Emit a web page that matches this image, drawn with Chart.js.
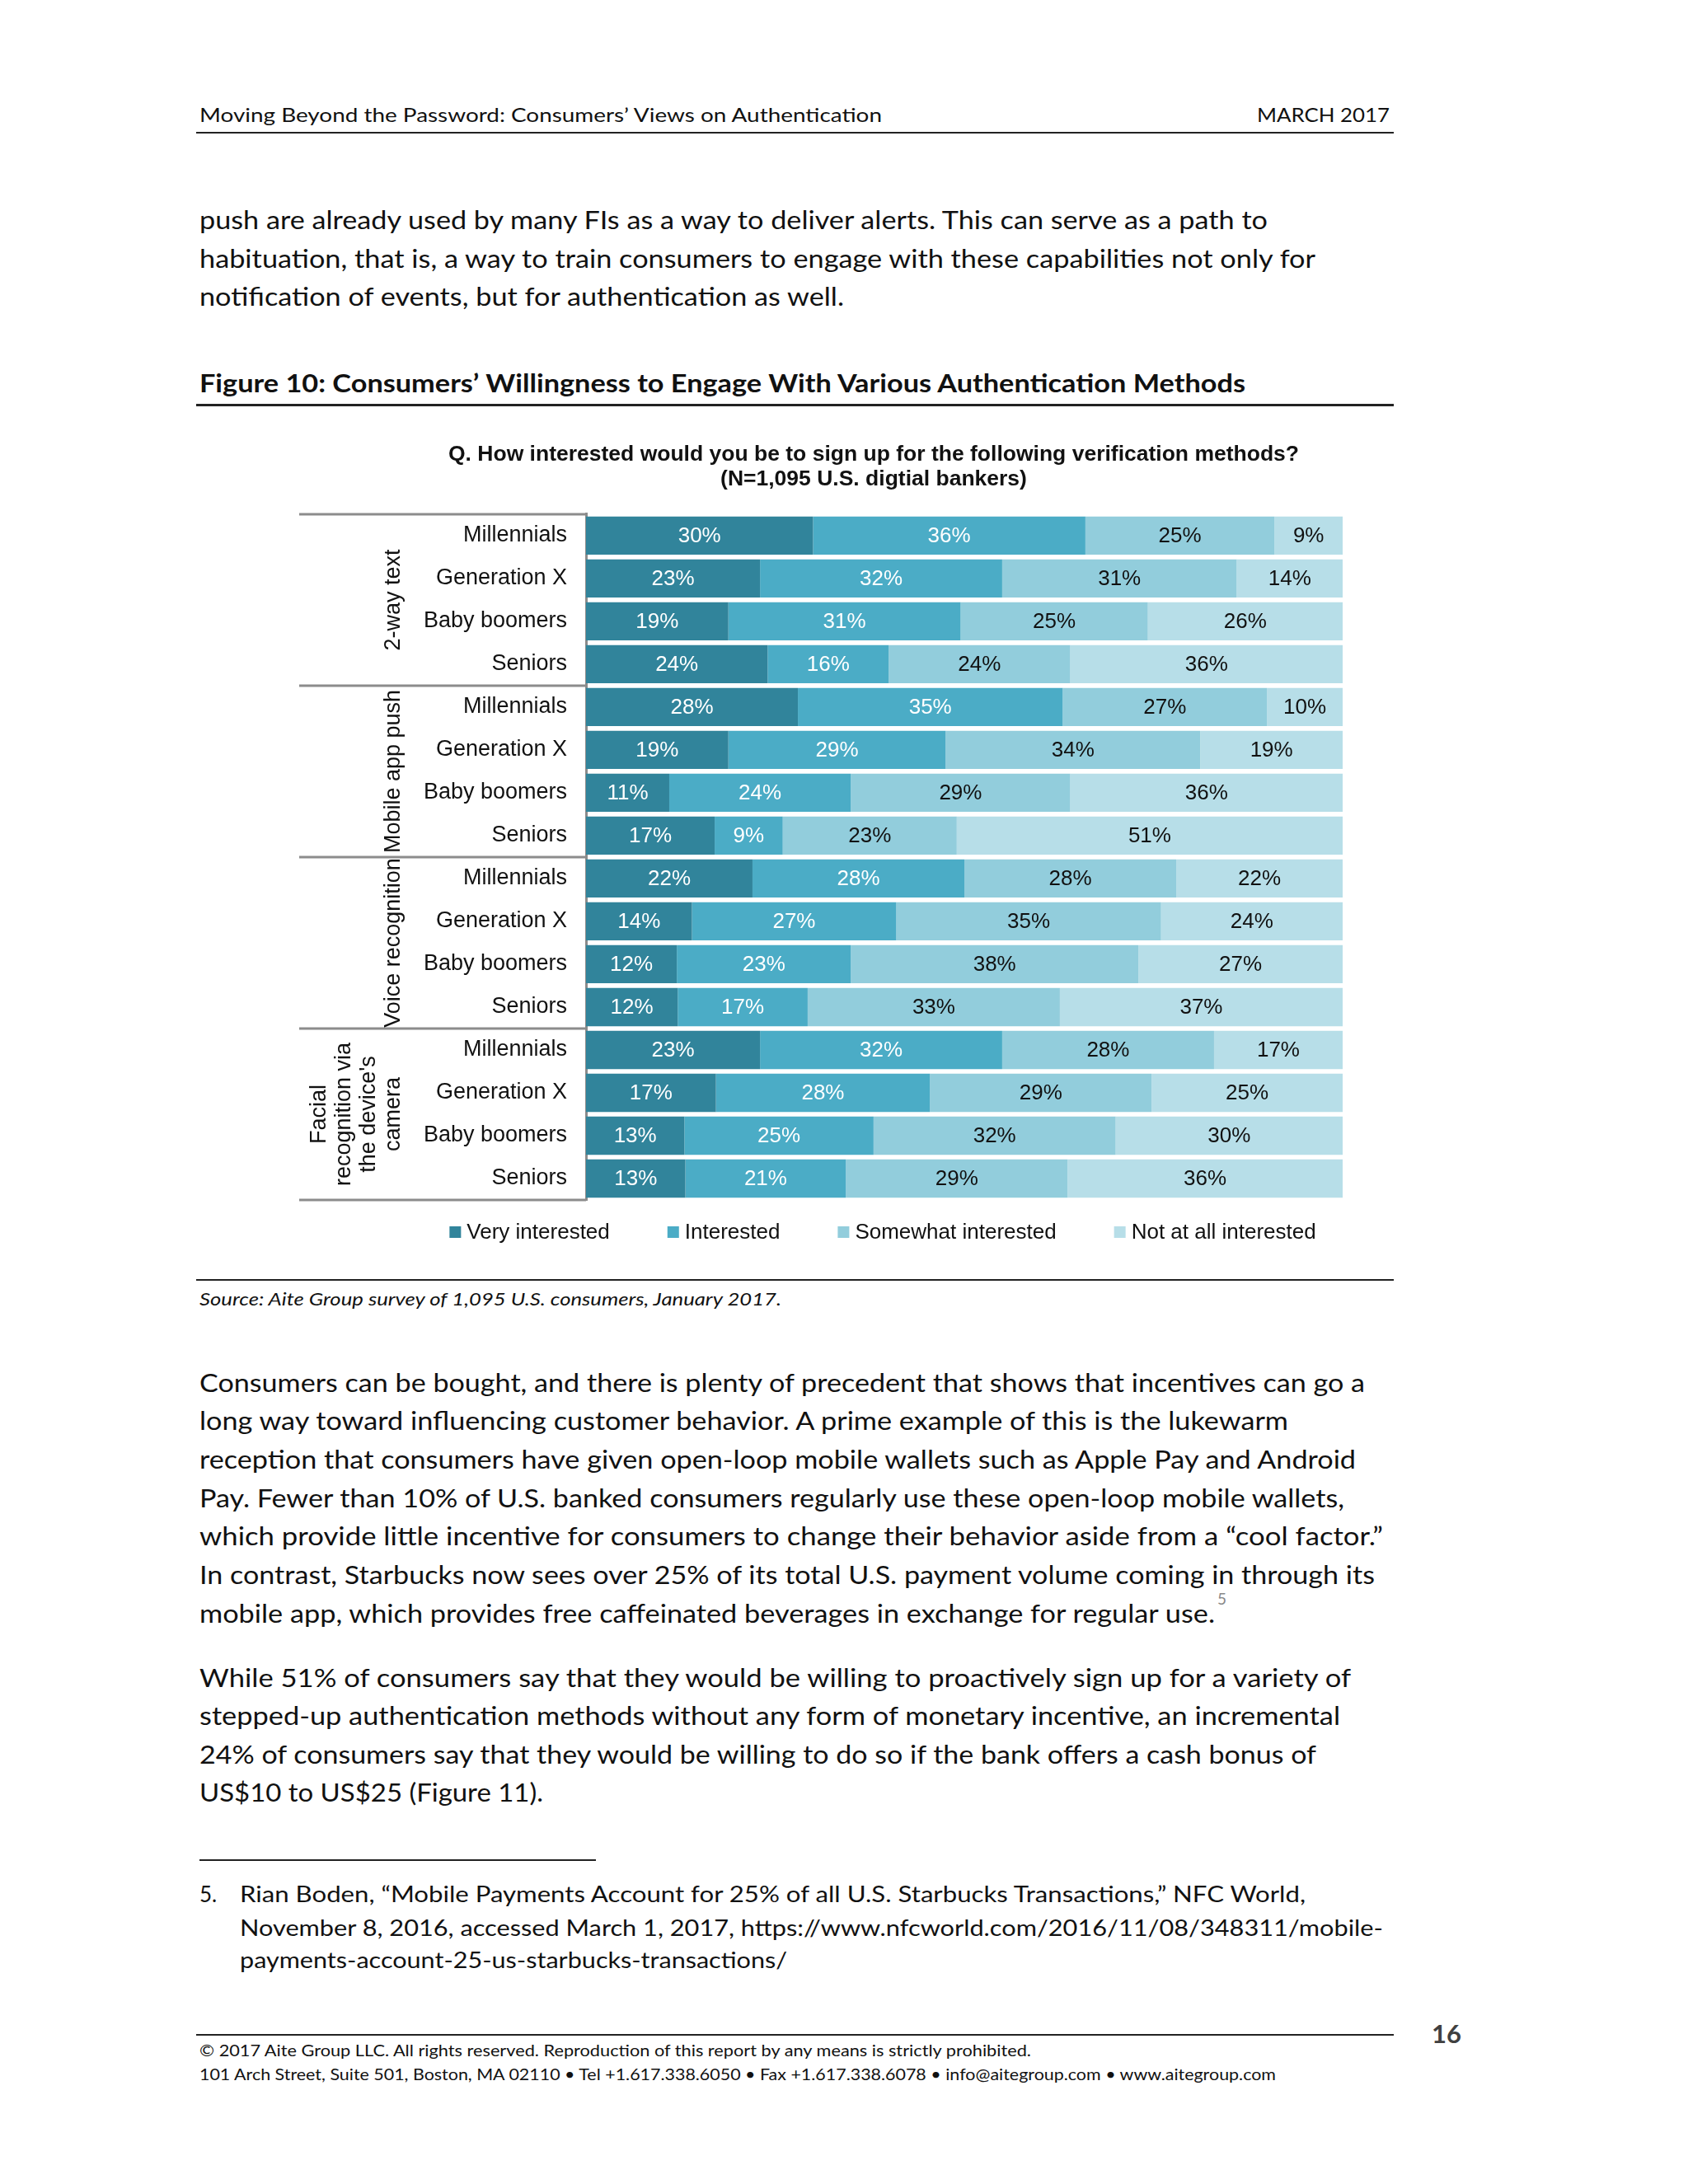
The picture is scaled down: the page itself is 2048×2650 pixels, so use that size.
<!DOCTYPE html>
<html>
<head>
<meta charset="utf-8">
<script src="https://cdn.jsdelivr.net/npm/chart.js@4.4.0/dist/chart.umd.min.js"></script>
<style>
  html, body { margin: 0; padding: 0; background: #fff; }
  #page { position: relative; width: 2048px; height: 2650px; overflow: hidden; background: #fff; }
  .t { position: absolute; white-space: nowrap; font-family: Lato, "Open Sans", sans-serif; color: #111; line-height: 1; transform-origin: left center; }
  .body { font-size: 30px; }
  .rule { position: absolute; background: #222; }
</style>
</head>
<body>
<div id="page">
  <div class="t" style="left:242px;top:127px;font-size:24px" data-w="828">Moving Beyond the Password: Consumers’ Views on Authentication</div>
  <div class="t" style="left:1525px;top:127px;font-size:24px" data-w="161">MARCH 2017</div>
  <div class="rule" style="left:238px;top:160px;width:1453px;height:2px"></div>

  <div class="t body" style="left:242px;top:251px" data-w="1296">push are already used by many FIs as a way to deliver alerts. This can serve as a path to</div>
  <div class="t body" style="left:242px;top:298px" data-w="1354">habituation, that is, a way to train consumers to engage with these capabilities not only for</div>
  <div class="t body" style="left:242px;top:344px" data-w="782">notification of events, but for authentication as well.</div>

  <div class="t body" style="left:242px;top:449px;font-weight:bold" data-w="1269">Figure 10: Consumers’ Willingness to Engage With Various Authentication Methods</div>
  <div class="rule" style="left:238px;top:490px;width:1453px;height:3px"></div>

  <div id="chartBox" style="position:absolute;left:351px;top:520px;width:1418px;height:1010px"><canvas id="chart"></canvas></div>

  <div class="rule" style="left:238px;top:1552px;width:1453px;height:2px"></div>
  <div class="t" style="left:242px;top:1565px;font-size:22px;font-style:italic" data-w="706">Source: Aite Group survey of 1,095 U.S. consumers, January 2017.</div>

  <div class="t body" style="left:242px;top:1662px" data-w="1414">Consumers can be bought, and there is plenty of precedent that shows that incentives can go a</div>
  <div class="t body" style="left:242px;top:1708px" data-w="1321">long way toward influencing customer behavior. A prime example of this is the lukewarm</div>
  <div class="t body" style="left:242px;top:1755px" data-w="1403">reception that consumers have given open-loop mobile wallets such as Apple Pay and Android</div>
  <div class="t body" style="left:242px;top:1802px" data-w="1389">Pay. Fewer than 10% of U.S. banked consumers regularly use these open-loop mobile wallets,</div>
  <div class="t body" style="left:242px;top:1848px" data-w="1436">which provide little incentive for consumers to change their behavior aside from a “cool factor.”</div>
  <div class="t body" style="left:242px;top:1895px" data-w="1426">In contrast, Starbucks now sees over 25% of its total U.S. payment volume coming in through its</div>
  <div class="t body" style="left:242px;top:1942px" data-w="1232">mobile app, which provides free caffeinated beverages in exchange for regular use.</div>
  <div class="t" style="left:1477px;top:1930px;font-size:19px;color:#888">5</div>

  <div class="t body" style="left:242px;top:2020px" data-w="1397">While 51% of consumers say that they would be willing to proactively sign up for a variety of</div>
  <div class="t body" style="left:242px;top:2066px" data-w="1384">stepped-up authentication methods without any form of monetary incentive, an incremental</div>
  <div class="t body" style="left:242px;top:2113px" data-w="1355">24% of consumers say that they would be willing to do so if the bank offers a cash bonus of</div>
  <div class="t body" style="left:242px;top:2159px" data-w="417">US$10 to US$25 (Figure 11).</div>

  <div class="rule" style="left:242px;top:2256px;width:481px;height:2px"></div>
  <div class="t" style="left:242px;top:2285px;font-size:26px">5.</div>
  <div class="t" style="left:291px;top:2285px;font-size:26px" data-w="1293">Rian Boden, “Mobile Payments Account for 25% of all U.S. Starbucks Transactions,” NFC World,</div>
  <div class="t" style="left:291px;top:2326px;font-size:26px" data-w="1387">November 8, 2016, accessed March 1, 2017, https://www.nfcworld.com/2016/11/08/348311/mobile-</div>
  <div class="t" style="left:291px;top:2365px;font-size:26px" data-w="664">payments-account-25-us-starbucks-transactions/</div>

  <div class="rule" style="left:238px;top:2468px;width:1453px;height:2px"></div>
  <div class="t" style="left:1737px;top:2452px;font-size:31px;font-weight:bold;color:#404040">16</div>
  <div class="t" style="left:242px;top:2478px;font-size:19px" data-w="1009">© 2017 Aite Group LLC. All rights reserved. Reproduction of this report by any means is strictly prohibited.</div>
  <div class="t" style="left:242px;top:2507px;font-size:19px" data-w="1306">101 Arch Street, Suite 501, Boston, MA 02110 • Tel +1.617.338.6050 • Fax +1.617.338.6078 • info@aitegroup.com • www.aitegroup.com</div>
</div>

<script>
// survey groups and rows
const groups = ['2-way text', 'Mobile app push', 'Voice recognition', ['Facial', 'recognition via', 'the device\'s', 'camera']];
const generations = ['Millennials', 'Generation X', 'Baby boomers', 'Seniors'];
const seriesNames = ['Very interested', 'Interested', 'Somewhat interested', 'Not at all interested'];

// values in %, one entry per row (4 generations x 4 methods, top to bottom)
const veryInterested     = [30, 23, 19, 24, 28, 19, 11, 17, 22, 14, 12, 12, 23, 17, 13, 13];
const interested         = [36, 32, 31, 16, 35, 29, 24,  9, 28, 27, 23, 17, 32, 28, 25, 21];
const somewhatInterested = [25, 31, 25, 24, 27, 34, 29, 23, 28, 35, 38, 33, 28, 29, 32, 29];
const notInterested      = [ 9, 14, 26, 36, 10, 19, 36, 51, 22, 24, 27, 37, 17, 25, 30, 36];

const seriesColors = ['#31849B', '#4BACC6', '#92CDDC', '#B7DEE8'];
const labelColors = ['#ffffff', '#ffffff', '#111111', '#111111'];
const FONT = '"Liberation Sans", Arial, sans-serif';

const allSeries = [veryInterested, interested, somewhatInterested, notInterested];
const rowLabels = [];
groups.forEach(() => generations.forEach(g => rowLabels.push(g)));

// 100% stacked: each row scaled to its own total
const rowTotals = rowLabels.map((_, i) => allSeries.reduce((s, arr) => s + arr[i], 0));

const datasets = allSeries.map((arr, k) => ({
    label: seriesNames[k],
    data: arr.map((v, i) => v / rowTotals[i] * 100),
    values: arr,
    backgroundColor: seriesColors[k],
    borderWidth: 0,
    barPercentage: 0.89,
    categoryPercentage: 1
}));

const segmentLabels = {
    id: 'segmentLabels',
    afterDatasetsDraw(chart) {
        const ctx = chart.ctx;
        ctx.save();
        ctx.font = '26px ' + FONT;
        ctx.textAlign = 'center';
        ctx.textBaseline = 'middle';
        chart.data.datasets.forEach((ds, i) => {
            chart.getDatasetMeta(i).data.forEach((bar, j) => {
                const p = bar.getProps(['x', 'y', 'base'], true);
                ctx.fillStyle = labelColors[i];
                ctx.fillText(ds.values[j] + '%', (p.x + p.base) / 2, p.y + 1);
            });
        });
        ctx.restore();
    }
};

const groupAxis = {
    id: 'groupAxis',
    afterDraw(chart) {
        const ctx = chart.ctx, y = chart.scales.y, left = chart.chartArea.left;
        ctx.save();
        ctx.strokeStyle = '#8c8c8c';
        ctx.lineWidth = 3;
        for (let g = 0; g <= groups.length; g++) {
            const py = y.getPixelForValue(g * generations.length - 0.5);
            ctx.beginPath();
            ctx.moveTo(12, py);
            ctx.lineTo(left, py);
            ctx.stroke();
        }
        ctx.fillStyle = '#111';
        ctx.font = '27px ' + FONT;
        ctx.textAlign = 'center';
        ctx.textBaseline = 'middle';
        groups.forEach((name, g) => {
            const top = y.getPixelForValue(g * generations.length - 0.5);
            const bottom = y.getPixelForValue((g + 1) * generations.length - 0.5);
            const lines = Array.isArray(name) ? name : [name];
            ctx.save();
            ctx.translate(127 - (lines.length - 1) * 30, (top + bottom) / 2);
            ctx.rotate(-Math.PI / 2);
            lines.forEach((l, i) => ctx.fillText(l, 0, i * 30));
            ctx.restore();
        });
        ctx.restore();
    }
};

const legendRow = {
    id: 'legendRow',
    afterDraw(chart) {
        const ctx = chart.ctx;
        ctx.save();
        ctx.font = '26px ' + FONT;
        ctx.textBaseline = 'middle';
        const items = chart.data.datasets.map(ds => ({ text: ds.label, color: ds.backgroundColor, w: ctx.measureText(ds.label).width }));
        const total = items.reduce((s, it) => s + 21 + it.w, 0) + 70 * (items.length - 1);
        let x = 720 - total / 2;
        const y = 975;
        items.forEach(it => {
            ctx.fillStyle = it.color;
            ctx.fillRect(x, y - 7, 14, 14);
            ctx.fillStyle = '#111';
            ctx.fillText(it.text, x + 21, y + 1);
            x += 21 + it.w + 70;
        });
        ctx.restore();
    }
};

new Chart(document.getElementById('chart'), {
    type: 'bar',
    data: { labels: rowLabels, datasets: datasets },
    plugins: [segmentLabels, groupAxis, legendRow],
    options: {
        indexAxis: 'y',
        responsive: true,
        maintainAspectRatio: false,
        animation: false,
        events: [],
        layout: { padding: { left: 140, right: 140, top: 0, bottom: 74 } },
        scales: {
            x: { stacked: true, min: 0, max: 100, display: false },
            y: {
                stacked: true,
                grid: { display: false, drawTicks: false },
                border: { display: true, color: '#8c8c8c', width: 3 },
                ticks: { color: '#111', padding: 23, font: { family: FONT, size: 27 } },
                afterFit: (scale) => { scale.width = 220; }
            }
        },
        plugins: {
            legend: { display: false },
            tooltip: { enabled: false },
            title: {
                display: true,
                text: ['Q. How interested would you be to sign up for the following verification methods?',
                       '(N=1,095 U.S. digtial bankers)'],
                color: '#111',
                font: { family: FONT, size: 26.5, weight: 'bold', lineHeight: 1.15 },
                padding: { top: 16, bottom: 27 }
            }
        }
    }
});

// squeeze each text line to the width it has in the original page
document.fonts.ready.then(() => {
    document.querySelectorAll('[data-w]').forEach(el => {
        const w = el.getBoundingClientRect().width;
        el.style.transform = 'scaleX(' + (parseFloat(el.dataset.w) / w) + ')';
    });
});
</script>
</body>
</html>
